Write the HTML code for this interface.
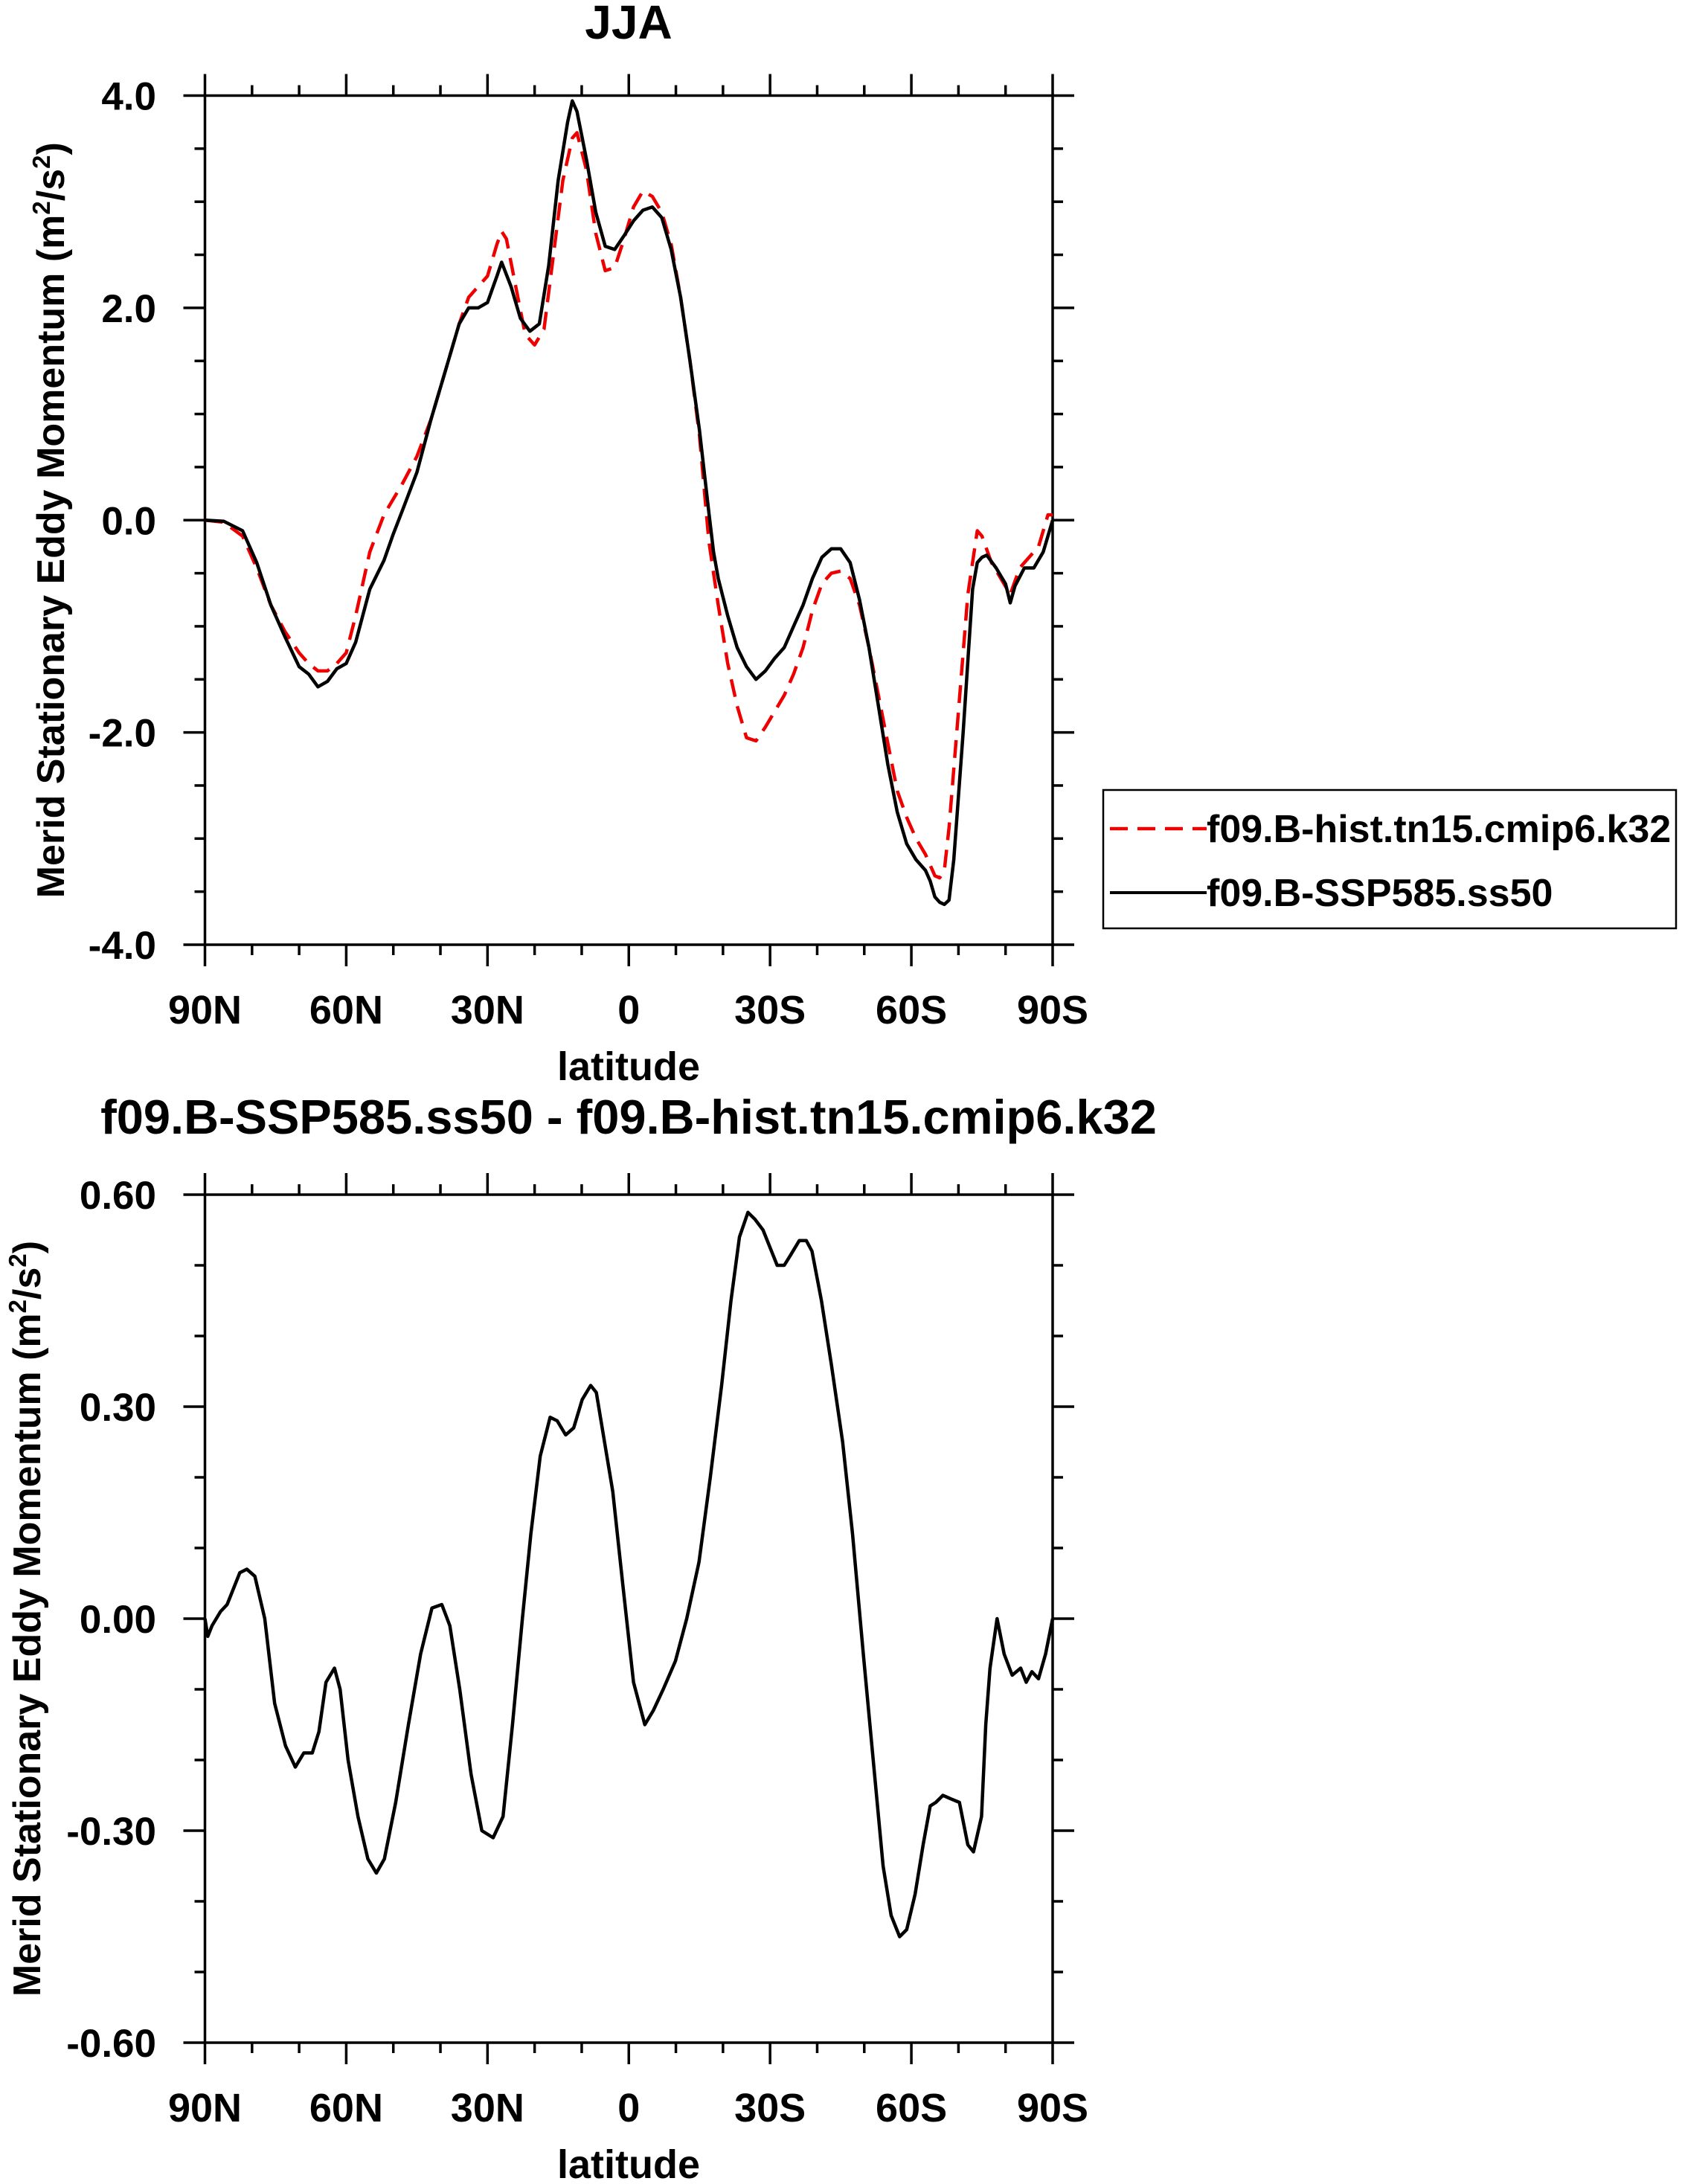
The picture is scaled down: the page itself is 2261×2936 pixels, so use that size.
<!DOCTYPE html>
<html><head><meta charset="utf-8"><style>
html,body{margin:0;padding:0;background:#fff}
svg{display:block}
text{font-family:"Liberation Sans",sans-serif;font-weight:bold;fill:#000}
</style></head><body>
<svg id="svg" width="2261" height="2936" viewBox="0 0 2261 2936" xmlns="http://www.w3.org/2000/svg">
<g id="top"></g>
<g id="bot"></g>
<g id="legend">
<rect x="1483" y="1062" width="770" height="186" fill="none" stroke="#000" stroke-width="2.5"/>
<line x1="1492" y1="1114" x2="1622" y2="1114" stroke="#e00" stroke-width="4.5" stroke-dasharray="24,13"/>
<text x="1622" y="1132" font-size="52">f09.B-hist.tn15.cmip6.k32</text>
<line x1="1492" y1="1200" x2="1622" y2="1200" stroke="#000" stroke-width="4"/>
<text x="1622" y="1218" font-size="52">f09.B-SSP585.ss50</text>
</g>
</svg>
<script>
const latA=[90,86,82,79,76,73,70,68,66,64,62,60,58,55,52,50,48,45,42,39,36,34,32,30,28,27,25,23,21,19,17,15,13,12,11,9,7,5,3,1,-1,-3,-5,-7,-9,-11,-13,-15,-17,-18,-19,-21,-23,-25,-27,-29,-31,-33,-35,-37,-39,-41,-43,-45,-47,-49,-51,-53,-55,-57,-59,-61,-63,-64,-65,-66,-67,-68,-69,-71,-73,-74,-75,-76,-78,-80,-81,-82,-84,-86,-88,-90];
const sspVals=[0,-0.01,-0.1,-0.4,-0.8,-1.1,-1.38,-1.45,-1.57,-1.52,-1.4,-1.35,-1.15,-0.65,-0.38,-0.13,0.1,0.45,0.95,1.4,1.85,2.0,2.0,2.05,2.3,2.43,2.2,1.9,1.78,1.85,2.4,3.2,3.75,3.95,3.85,3.4,2.9,2.58,2.55,2.68,2.82,2.92,2.95,2.85,2.55,2.1,1.5,0.85,0.07,-0.3,-0.55,-0.9,-1.2,-1.38,-1.5,-1.42,-1.3,-1.2,-1.0,-0.8,-0.55,-0.35,-0.27,-0.27,-0.4,-0.75,-1.2,-1.75,-2.3,-2.75,-3.05,-3.2,-3.3,-3.4,-3.55,-3.6,-3.62,-3.58,-3.2,-2.0,-0.65,-0.4,-0.35,-0.33,-0.45,-0.6,-0.78,-0.62,-0.45,-0.45,-0.3,0.0];
const latB=[90,86,82,79,76,73,70,68,66,64,62,60,58,55,52,48,45,42,39,36,34,32,30,28,27,26,24,22,20,18,16,14,12,11,9,7,5,3,1,-1,-3,-5,-7,-9,-11,-13,-15,-17,-19,-21,-23,-25,-27,-29,-31,-33,-35,-37,-39,-41,-43,-45,-47,-49,-51,-53,-55,-57,-59,-61,-63,-65,-66,-67,-68,-70,-72,-74,-75,-77,-79,-81,-83,-85,-87,-89,-90];
const histVals=[0,-0.02,-0.15,-0.45,-0.8,-1.05,-1.25,-1.35,-1.42,-1.42,-1.35,-1.25,-0.9,-0.3,0.05,0.35,0.6,0.95,1.4,1.85,2.1,2.2,2.3,2.6,2.72,2.65,2.2,1.75,1.65,1.8,2.5,3.2,3.6,3.65,3.3,2.7,2.35,2.38,2.65,2.95,3.1,3.05,2.9,2.6,2.1,1.5,0.8,-0.2,-0.8,-1.35,-1.75,-2.05,-2.08,-1.95,-1.8,-1.65,-1.45,-1.2,-0.85,-0.6,-0.5,-0.48,-0.55,-0.8,-1.2,-1.65,-2.1,-2.55,-2.8,-3.0,-3.15,-3.35,-3.37,-3.3,-2.9,-1.8,-0.7,-0.1,-0.15,-0.4,-0.55,-0.7,-0.45,-0.35,-0.25,0.05,0.05];
const latD=[89.4,88.5,86.7,85.3,84.1,82.6,81.1,79.4,77.3,75.2,72.9,70.8,69,67.2,65.8,64.3,62.5,61.3,59.6,57.5,55.4,53.6,51.9,49.5,46.8,44.2,41.8,39.7,38,35.9,33.5,31.2,28.8,26.7,24.7,22.6,20.8,18.8,16.7,15.2,13.4,11.7,9.9,8.1,6.9,4.9,3.4,1.3,-1,-3.4,-5.2,-7.3,-9.9,-12.3,-14.9,-17.3,-19.7,-21.7,-23.5,-25.3,-26.8,-28.5,-30,-31.5,-33,-34.4,-36.2,-37.7,-38.9,-40.9,-43,-45.4,-47.5,-49.8,-51.9,-54,-55.7,-57.5,-59,-60.8,-62.5,-64,-65.2,-66.7,-68.4,-70.2,-72,-73.2,-74.9,-75.8,-76.7,-78.2,-79.7,-81.4,-83.2,-84.4,-85.6,-87,-88.5,-90];
const diffVals=[-0.025,-0.01,0.01,0.02,0.04,0.065,0.07,0.06,0.0,-0.12,-0.18,-0.21,-0.19,-0.19,-0.16,-0.09,-0.07,-0.1,-0.2,-0.28,-0.34,-0.36,-0.34,-0.26,-0.15,-0.05,0.015,0.02,-0.01,-0.1,-0.22,-0.3,-0.31,-0.28,-0.15,0.0,0.12,0.23,0.285,0.28,0.26,0.27,0.31,0.33,0.32,0.24,0.18,0.05,-0.09,-0.15,-0.13,-0.1,-0.06,0.0,0.08,0.2,0.33,0.45,0.54,0.575,0.565,0.55,0.525,0.5,0.5,0.515,0.535,0.535,0.52,0.45,0.36,0.25,0.12,-0.05,-0.2,-0.35,-0.42,-0.45,-0.44,-0.39,-0.32,-0.265,-0.26,-0.25,-0.255,-0.26,-0.32,-0.33,-0.28,-0.15,-0.07,0.0,-0.05,-0.08,-0.07,-0.09,-0.075,-0.085,-0.05,0.0];
const xTickVals=[90,60,30,0,-30,-60,-90];
const xTickLabels=["90N","60N","30N","0","30S","60S","90S"];
const yTopTicks=[4,2,0,-2,-4];
const yTopLabels=["4.0","2.0","0.0","-2.0","-4.0"];
const yBotTicks=[0.6,0.3,0,-0.3,-0.6];
const yBotLabels=["0.60","0.30","0.00","-0.30","-0.60"];
const NS="http://www.w3.org/2000/svg";
function mk(p,t,a){const e=document.createElementNS(NS,t);for(const k in a)e.setAttribute(k,a[k]);p.appendChild(e);return e;}
const L=275.5,R=1415;
const xs=lat=>L+(90-lat)/180*(R-L);
function panel(g,top,bot,ymin,ymax,yt,yl,minorStep,titleY,titleTxt,titleSize,ytX,nm){
 const ys=v=>bot-(v-ymin)/(ymax-ymin)*(bot-top);
 let r=mk(g,'rect',{x:L,y:top,width:R-L,height:bot-top,fill:'none',stroke:'#000','stroke-width':3.5});
 
 
 for(let lat=90;lat>=-90;lat-=10){const maj=lat%30===0;const len=maj?29:14;const x=xs(lat);
  let a=mk(g,'line',{x1:x,y1:bot,x2:x,y2:bot+len,stroke:'#000','stroke-width':3.5});
  
  
  let b=mk(g,'line',{x1:x,y1:top,x2:x,y2:top-len,stroke:'#000','stroke-width':3.5});
  
  }
 const n=Math.round((ymax-ymin)/minorStep);
 for(let i=0;i<=n;i++){const v=ymin+i*minorStep;const maj=yt.some(t=>Math.abs(t-v)<1e-6);const len=maj?29:14;const y=ys(v);
  let a=mk(g,'line',{x1:L,y1:y,x2:L-len,y2:y,stroke:'#000','stroke-width':3.5});
  
  
  let b=mk(g,'line',{x1:R,y1:y,x2:R+len,y2:y,stroke:'#000','stroke-width':3.5});
  
  }
 xTickVals.forEach((v,i)=>{let t=mk(g,'text',{x:xs(v),y:bot+106,'text-anchor':'middle','font-size':54});t.textContent=xTickLabels[i];
  
  });
 yt.forEach((v,i)=>{let t=mk(g,'text',{x:210,y:ys(v)+19,'text-anchor':'end','font-size':53});t.textContent=yl[i];
  
  });
 let xl=mk(g,'text',{x:845,y:bot+182,'text-anchor':'middle','font-size':54});xl.textContent='latitude';
 
 
 let tt=mk(g,'text',{x:845,y:titleY,'text-anchor':'middle','font-size':titleSize});tt.textContent=titleTxt;
 
 
 const cy=(top+bot)/2;
 let ya=mk(g,'text',{x:ytX,y:cy,'text-anchor':'middle','font-size':52,transform:`rotate(-90 ${ytX} ${cy})`});
 ya.innerHTML='Merid Stationary Eddy Momentum (m<tspan font-size="33" dy="-19">2</tspan><tspan dy="19">/s</tspan><tspan font-size="33" dy="-19">2</tspan><tspan dy="19">)</tspan>';
 
 
 return ys;
}
const gt=document.getElementById('top'),gb=document.getElementById('bot');
const ysT=panel(gt,128.5,1270,-4,4,yTopTicks,yTopLabels,0.5,52,'JJA',64,86,'top');
const ysB=panel(gb,1606,2746,-0.6,0.6,yBotTicks,yBotLabels,0.1,1524,'f09.B-SSP585.ss50 - f09.B-hist.tn15.cmip6.k32',65,54,'bottom');
function path(lats,vals,ys){return lats.map((l,i)=>(i?'L':'M')+xs(l).toFixed(1)+','+ys(vals[i]).toFixed(1)).join('');}
let p1=mk(gt,'path',{d:path(latB,histVals,ysT),fill:'none',stroke:'#e00','stroke-width':4.5,'stroke-dasharray':'24,13','stroke-linejoin':'round'});


let p2=mk(gt,'path',{d:path(latA,sspVals,ysT),fill:'none',stroke:'#000','stroke-width':4.5,'stroke-linejoin':'round'});


let p3=mk(gb,'path',{d:'M'+xs(90)+','+ysB(0)+'L'+path(latD,diffVals,ysB).slice(1),fill:'none',stroke:'#000','stroke-width':4.5,'stroke-linejoin':'round'});


</script>
</body></html>
